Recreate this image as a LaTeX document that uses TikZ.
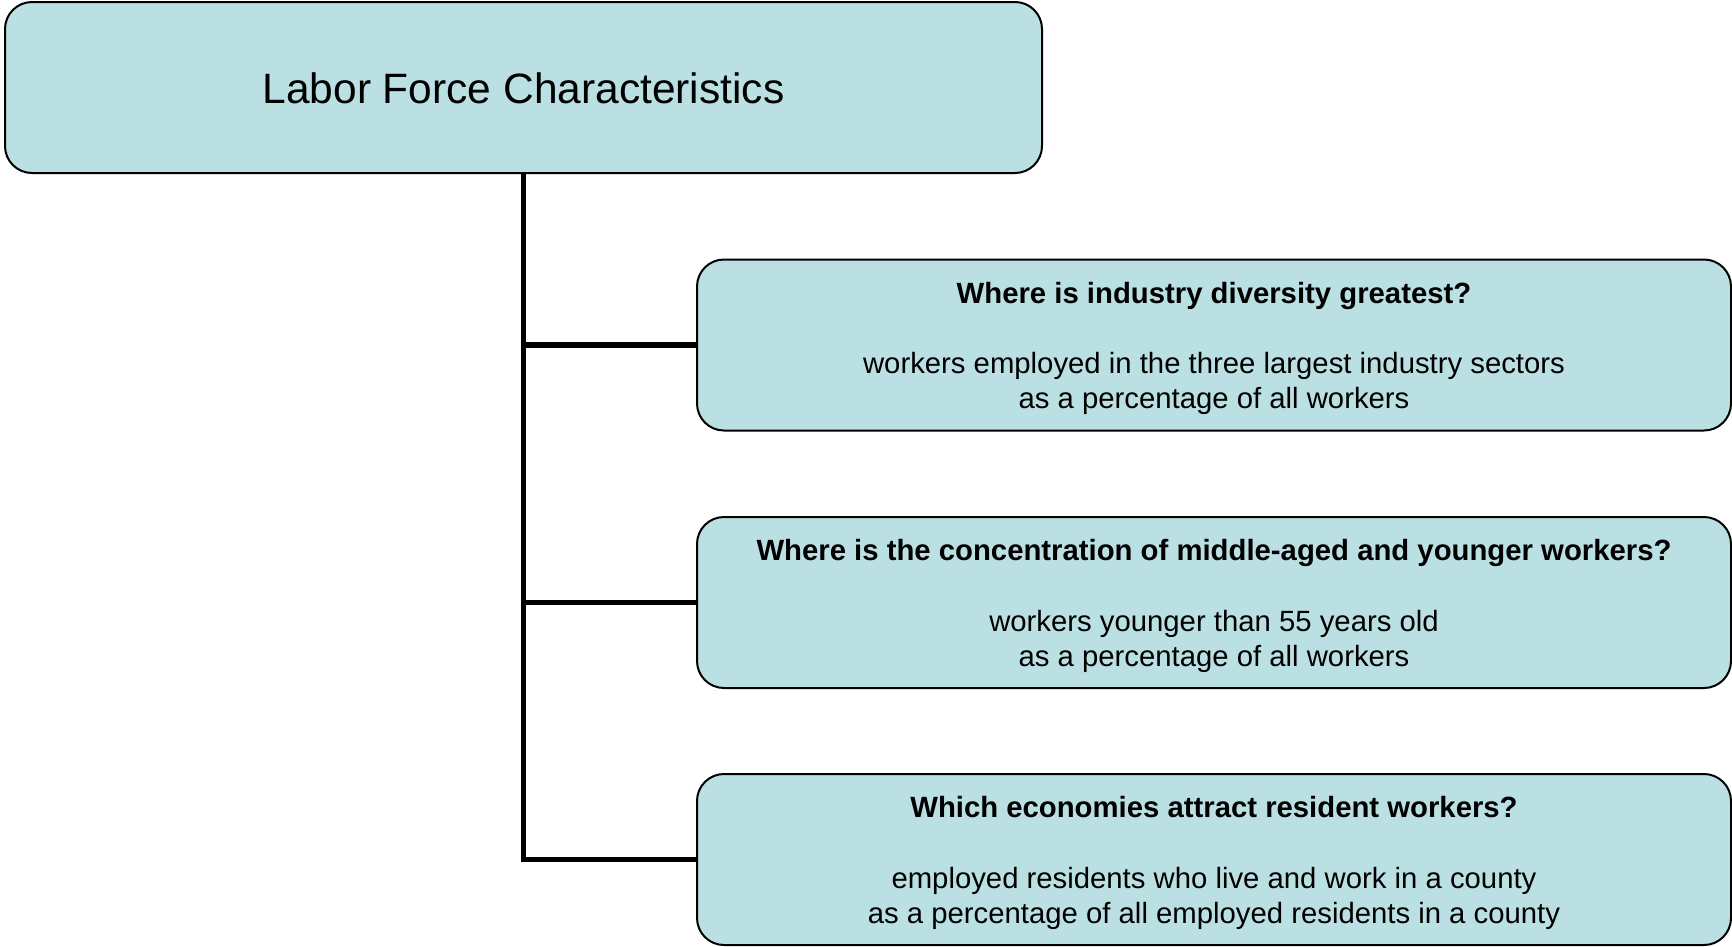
\documentclass[tikz,border=0pt]{standalone}
\usepackage{fontspec}
\setmainfont{Liberation Sans}
\definecolor{boxfill}{HTML}{BBE0E3}
\newcommand{\topstrut}{\rule{0pt}{28pt}}
\begin{document}
\begin{tikzpicture}[x=1pt,y=-1pt,
  box/.style={draw=black, line width=2pt, fill=boxfill, rounded corners=27pt, inner sep=0pt, align=center},
  topbox/.style={box, minimum width=1037pt, minimum height=171pt, font=\fontsize{42.5}{50}\selectfont},
  qbox/.style={box, minimum width=1034pt, minimum height=171pt, font=\fontsize{29.3}{35.3}\selectfont},
  conn/.style={line width=5.8pt, line join=miter, draw=black}]
\useasboundingbox (0,0) rectangle (1732,946);
\node[topbox] (top) at (523.5,87.5) {\rule{0pt}{32pt}Labor Force Characteristics};
\node[qbox] (b1) at (1214,345) {\topstrut\textbf{Where is industry diversity greatest?}\\[35.3pt]workers employed in the three largest industry sectors\\as a percentage of all workers};
\node[qbox] (b2) at (1214,602.5) {\topstrut\textbf{Where is the concentration of middle-aged and younger workers?}\\[35.3pt]workers younger than 55 years old\\as a percentage of all workers};
\node[qbox] (b3) at (1214,859.5) {\topstrut\textbf{Which economies attract resident workers?}\\[35.3pt]employed residents who live and work in a county\\as a percentage of all employed residents in a county};
\draw[conn] (top.south) -- (top.south |- b3.west) -- (b3.west);
\draw[conn] (top.south |- b1.west) -- (b1.west);
\draw[conn] (top.south |- b2.west) -- (b2.west);
\end{tikzpicture}
\end{document}
